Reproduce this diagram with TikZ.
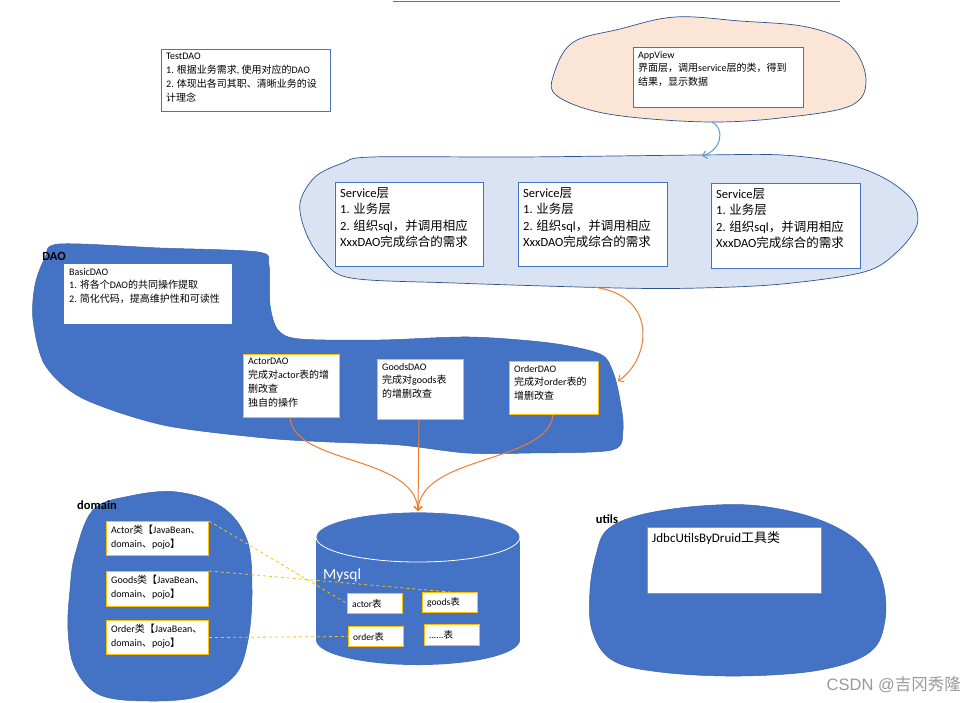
\documentclass[tikz,border=0pt]{standalone}
\usepackage{fontspec}
\setmainfont{Carlito}
\newfontfamily\cjkfont{Noto Sans CJK SC}
\newfontfamily\wmfont{Liberation Sans}
\usetikzlibrary{arrows.meta}

% switch to the CJK font for Chinese characters
\XeTeXinterchartokenstate=1
\newXeTeXintercharclass\cjkclass
\newcount\cjkcode
\def\setcjkrange#1#2{\cjkcode=#1 \loop\XeTeXcharclass\cjkcode=\cjkclass \ifnum\cjkcode<#2 \advance\cjkcode by 1 \repeat}
\setcjkrange{"3000}{"303F}
\setcjkrange{"4E00}{"9FFF}
\setcjkrange{"FF00}{"FFEF}
\XeTeXinterchartoks 0 \cjkclass = {\cjkfont}
\XeTeXinterchartoks 4095 \cjkclass = {\cjkfont}
\XeTeXinterchartoks \cjkclass 0 = {\rmfamily}
\XeTeXinterchartoks \cjkclass 4095 = {\rmfamily}

\definecolor{boxblue}{HTML}{4472C4}
\definecolor{daoblue}{HTML}{4472C4}
\definecolor{daoedge}{HTML}{3B64AE}
\definecolor{navyedge}{HTML}{2F528F}
\definecolor{svcfill}{HTML}{DAE3F3}
\definecolor{viewpeach}{HTML}{FBE5D6}
\definecolor{tblgold}{HTML}{FFC000}
\definecolor{arroworange}{HTML}{ED7D31}
\definecolor{arrowblue}{HTML}{5B9BD5}
\definecolor{wmgray}{HTML}{9A9A9A}

\begin{document}
\begin{tikzpicture}[x=1pt,y=-1pt,
    >={Straight Barb[length=4pt,width=8pt]},
    boxframe/.style={draw=boxblue,line width=0.8pt,fill=white,anchor=north west,inner sep=0pt},
    goldframe/.style={boxframe,draw=tblgold,line width=1pt},
    txt/.style={anchor=north west,align=left,inner xsep=5pt,inner ysep=4pt,font=\fontsize{10}{13.8}\selectfont},
    bigtxt/.style={txt,inner ysep=5pt,font=\fontsize{12.5}{16.5}\selectfont},
    tbltxt/.style={anchor=west,inner xsep=5pt,font=\fontsize{9.5}{11}\selectfont},
    tag/.style={font=\fontsize{12.5}{15}\selectfont\bfseries,inner sep=0pt},
    blob/.style={fill=daoblue,draw=daoedge,line width=0.5pt},
    link/.style={draw=tblgold,dashed,line width=0.8pt},
    flow/.style={draw=arroworange,line width=1pt,->}]
  \path[use as bounding box,fill=white] (0,0) rectangle (977,702);
  \draw[boxblue,line width=1pt] (393,1) -- (840,1);

  % clouds
  \draw[fill=viewpeach,draw=navyedge,line width=0.7pt] plot[smooth cycle,tension=0.6] coordinates {(553,77) (572,43) (620,29) (675,17) (740,21) (807,27) (850,45) (866,80) (850,106) (780,118) (713,122) (640,118) (590,110) (556,95)};
  \draw[fill=svcfill,draw=navyedge,line width=0.7pt] plot[smooth cycle,tension=0.55] coordinates {(372,157) (520,157) (700,155) (782,155) (843,163) (884,178) (912,200) (917,225) (897,252) (864,272) (782,284) (700,288) (618,288) (454,283) (351,278) (323,260) (306,233) (300,203) (315,177) (343,163)};
  \draw[blob] plot[smooth cycle,tension=0.5] coordinates {(59,244) (160,248) (258,252) (269,265) (270,305) (278,330) (300,339) (380,340) (470,337) (550,343) (600,354) (613,372) (620,400) (623,430) (612,450) (530,453) (467,453) (400,445) (330,442) (265,438) (163,425) (82,398) (45,365) (33,320) (35,285) (45,258)};
  \draw[blob] plot[smooth cycle,tension=0.6] coordinates {(93,510) (130,496) (177,492) (222,507) (247,540) (252,590) (248,640) (235,675) (200,696) (150,701) (100,695) (75,668) (68,630) (70,590) (75,555)};
  \draw[blob] plot[smooth cycle,tension=0.6] coordinates {(607,530) (640,515) (700,506) (760,506) (820,520) (862,545) (882,580) (885,620) (870,652) (820,670) (740,676) (660,672) (612,660) (592,630) (590,590) (596,555)};

  % Mysql
  \fill[daoblue] (316,537) rectangle (520,640);
  \fill[daoblue] (418,640) ellipse [x radius=102pt,y radius=25pt];
  \fill[daoblue] (418,537) ellipse [x radius=102pt,y radius=25pt];
  \draw[white,line width=0.8pt] (418,537) ellipse [x radius=102pt,y radius=25pt];
  \coordinate (dbtop) at (418,511);
  \node[anchor=west,text=white,font=\fontsize{15.5}{18}\selectfont,inner sep=0pt] (mysql) at (323,575) {Mysql};

  \node[tag] (daotag) at (54,256) {DAO};
  \node[tag] (domaintag) at (97,505) {domain};
  \node[tag] (utilstag) at (607,519) {utils};

  % view and service
  \node[boxframe,minimum width=169pt,minimum height=62pt] (testdao) at (161,49) {};
  \node[txt] at (testdao.north west) {TestDAO\\1. 根据业务需求, 使用对应的DAO\\2. 体现出各司其职、清晰业务的设\\计理念};
  \node[boxframe,minimum width=170pt,minimum height=60pt] (appview) at (633,47) {};
  \node[txt] at (appview.north west) {AppView\\界面层，调用service层的类，得到\\结果，显示数据};
  \node[boxframe,minimum width=148pt,minimum height=84pt] (service1) at (335,182) {};
  \node[bigtxt] at (service1.north west) {Service层\\1. 业务层\\2. 组织sql，并调用相应\\XxxDAO完成综合的需求};
  \node[boxframe,minimum width=149pt,minimum height=84pt] (service2) at (518,182) {};
  \node[bigtxt] at (service2.north west) {Service层\\1. 业务层\\2. 组织sql，并调用相应\\XxxDAO完成综合的需求};
  \node[boxframe,minimum width=149pt,minimum height=85pt] (service3) at (711,183) {};
  \node[bigtxt] at (service3.north west) {Service层\\1. 业务层\\2. 组织sql，并调用相应\\XxxDAO完成综合的需求};

  % dao
  \node[boxframe,draw=none,minimum width=168pt,minimum height=60pt] (basicdao) at (64,264) {};
  \node[txt] at (basicdao.north west) {BasicDAO\\1. 将各个DAO的共同操作提取\\2. 简化代码，提高维护性和可读性};
  \node[goldframe,minimum width=96pt,minimum height=63pt] (actordao) at (243,354) {};
  \node[txt] at (actordao.north west) {ActorDAO\\完成对actor表的增\\删改查\\独自的操作};
  \node[goldframe,minimum width=86pt,minimum height=60pt] (goodsdao) at (377,359) {};
  \node[txt] at (goodsdao.north west) {GoodsDAO\\完成对goods表\\的增删改查};
  \node[goldframe,minimum width=89pt,minimum height=53pt] (orderdao) at (509,361) {};
  \node[txt] at (orderdao.north west) {OrderDAO\\完成对order表的\\增删改查};

  % domain
  \node[goldframe,minimum width=102pt,minimum height=34pt] (actorcls) at (106,521) {};
  \node[txt] at (actorcls.north west) {Actor类【JavaBean、\\domain、pojo】};
  \node[goldframe,minimum width=102pt,minimum height=35pt] (goodscls) at (106,571) {};
  \node[txt] at (goodscls.north west) {Goods类【JavaBean、\\domain、pojo】};
  \node[goldframe,minimum width=102pt,minimum height=34pt] (ordercls) at (106,620) {};
  \node[txt] at (ordercls.north west) {Order类【JavaBean、\\domain、pojo】};

  % tables
  \node[goldframe,minimum width=55pt,minimum height=20pt] (actortbl) at (347,593) {};
  \node[tbltxt] at (actortbl.west) {actor表};
  \node[goldframe,minimum width=55pt,minimum height=20pt] (goodstbl) at (422,592) {};
  \node[tbltxt] at (goodstbl.west) {goods表};
  \node[goldframe,minimum width=55pt,minimum height=20pt] (ordertbl) at (348,626) {};
  \node[tbltxt] at (ordertbl.west) {order表};
  \node[goldframe,minimum width=55pt,minimum height=21pt] (moretbl) at (424,624) {};
  \node[tbltxt] at (moretbl.west) {......表};

  % utils
  \node[boxframe,draw=arroworange,minimum width=174pt,minimum height=66pt] (jdbc) at (647,527) {};
  \node[txt,font=\fontsize{13}{16}\selectfont] at (jdbc.north west) {JdbcUtilsByDruid工具类};

  % links
  \draw[link] (actorcls.north east) -- (actortbl.west);
  \draw[link] (goodscls.north east) -- (goodstbl.north);
  \draw[link] (ordercls.east) -- (ordertbl.west);

  % arrows
  \coordinate (viewbottom) at (712,122);
  \coordinate (svctop) at (702,156);
  \coordinate (svcbottom) at (593,287);
  \coordinate (daoside) at (618,381);
  \draw[arrowblue,line width=1pt,->] (viewbottom) .. controls (725,128) and (722,150) .. (svctop);
  \draw[flow] (svcbottom) .. controls (660,295) and (650,360) .. (daoside);
  \draw[flow] (actordao.south -| 290,0) .. controls (295,465) and (415,455) .. (dbtop);
  \draw[flow] (goodsdao.south -| 419,0) -- (dbtop);
  \draw[flow] (orderdao.south -| 553,0) .. controls (548,463) and (421,455) .. (dbtop);

  \node[text=wmgray,font=\wmfont\fontsize{16.5}{18}\selectfont,anchor=east,inner sep=0pt] (mark) at (961,685) {CSDN @吉冈秀隆};
\end{tikzpicture}
\end{document}
